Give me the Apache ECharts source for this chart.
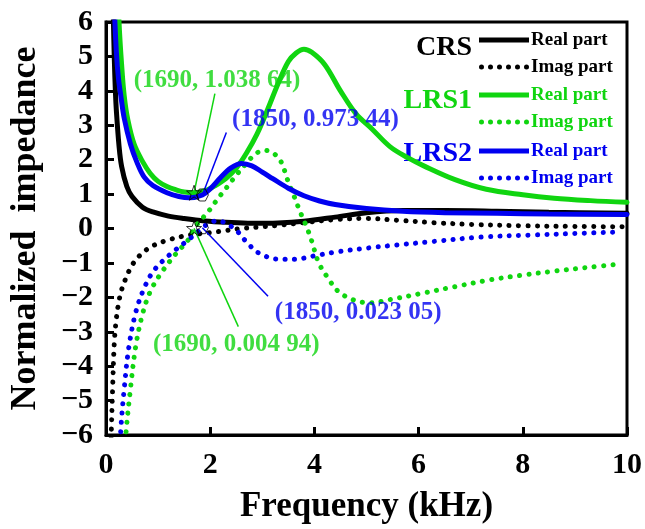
<!DOCTYPE html>
<html>
<head>
<meta charset="utf-8">
<script src="https://cdn.jsdelivr.net/npm/echarts@6/dist/echarts.min.js"></script>
<style>
html,body{margin:0;padding:0;background:#fff;}
#chart{width:645px;height:529px;}
</style>
</head>
<body>
<div id="chart"></div>
<script>
// ---- data (frequency in kHz, normalized impedance) ----
const xTicks = [0, 2, 4, 6, 8, 10];
const yTicks = [-6, -5, -4, -3, -2, -1, 0, 1, 2, 3, 4, 5, 6];

const crsRealF = [0.12,0.14,0.16,0.18,0.2,0.25,0.3,0.4,0.5,0.7,0.9,1.2,1.5,1.9,2.3,2.8,3.3,3.8,4.4,5.0,5.7,6.5,7.5,8.5,10];
const crsRealV = [8,6.2,4.9,4.0,3.4,2.4,1.8,1.22,0.93,0.62,0.48,0.36,0.29,0.22,0.18,0.15,0.16,0.21,0.33,0.46,0.52,0.52,0.5,0.47,0.44];

const crsImagF = [0.08,0.1,0.127,0.16,0.2,0.25,0.3,0.38,0.48,0.6,0.75,0.9,1.2,1.6,2.0,2.3,2.6,2.9,3.3,3.8,4.4,5.0,5.6,6.3,7.0,8.0,9.0,10];
const crsImagV = [-7.2,-6.0,-4.65,-3.3,-2.6,-2.1,-1.78,-1.45,-1.12,-0.86,-0.65,-0.5,-0.33,-0.19,-0.12,-0.06,0.0,0.04,0.09,0.17,0.26,0.29,0.24,0.17,0.12,0.08,0.06,0.05];

const lrs1RealF = [0.22,0.25,0.3,0.35,0.42,0.54,0.7,0.85,1.0,1.17,1.35,1.5,1.69,1.9,2.1,2.3,2.5,2.7,2.9,3.1,3.3,3.5,3.65,3.8,3.95,4.2,4.5,4.8,5.1,5.45,5.8,6.1,6.7,7.3,8.0,8.6,9.3,10];
const lrs1RealV = [7.5,6.0,4.75,3.85,3.15,2.45,1.95,1.6,1.37,1.22,1.12,1.06,1.04,1.1,1.25,1.45,1.75,2.2,2.75,3.45,4.2,4.85,5.1,5.21,5.12,4.76,4.0,3.33,2.9,2.38,2.05,1.82,1.42,1.14,0.98,0.88,0.81,0.76];

const lrs1ImagF = [0.34,0.38,0.47,0.57,0.7,0.85,1.07,1.36,1.58,1.69,1.87,2.0,2.1,2.2,2.32,2.5,2.7,2.88,3.05,3.2,3.35,3.5,3.62,3.73,3.85,3.95,4.08,4.27,4.46,4.74,5.06,5.44,6.07,6.7,7.34,7.97,8.6,9.24,9.9];
const lrs1ImagV = [-7.0,-6.0,-4.65,-3.43,-2.49,-1.83,-1.27,-0.7,-0.33,0.005,0.33,0.56,0.77,0.97,1.2,1.55,1.9,2.18,2.27,2.2,1.97,1.35,0.9,0.47,0.05,-0.37,-0.99,-1.46,-1.83,-2.07,-2.16,-2.07,-1.88,-1.69,-1.5,-1.36,-1.24,-1.13,-1.03];

const lrs2RealF = [0.14,0.16,0.2,0.24,0.285,0.35,0.47,0.6,0.73,0.9,1.17,1.4,1.6,1.85,2.0,2.2,2.4,2.6,2.8,3.0,3.2,3.5,3.8,4.1,4.4,5.0,5.7,6.5,7.5,8.5,10];
const lrs2RealV = [7.4,6.4,5.1,4.35,3.85,3.2,2.45,1.9,1.5,1.25,1.04,0.93,0.89,0.973,1.15,1.48,1.76,1.89,1.82,1.64,1.45,1.17,0.95,0.8,0.7,0.58,0.5,0.46,0.44,0.42,0.41];

const lrs2ImagF = [0.25,0.285,0.35,0.44,0.57,0.73,0.92,1.23,1.58,1.85,1.99,2.15,2.31,2.5,2.69,2.94,3.32,3.64,3.98,4.43,5.06,5.57,6.26,7.2,8.16,9.1,9.9];
const lrs2ImagV = [-7.0,-5.82,-4.65,-3.43,-2.44,-1.74,-1.22,-0.75,-0.33,0.023,0.16,0.23,0.14,-0.05,-0.38,-0.72,-0.89,-0.89,-0.8,-0.68,-0.56,-0.48,-0.38,-0.25,-0.19,-0.14,-0.1];

// marked points and annotations (data coordinates)
const markF = [1.69, 1.85, 1.85, 1.69];
const markV = [1.03864, 0.97344, 0.02305, 0.00494];
const markShape = ['star', 'hex', 'hex', 'star'];
const annoText = ['(1690, 1.038 64)', '(1850, 0.973 44)', '(1850, 0.023 05)', '(1690, 0.004 94)'];
const annoF = [2.13, 4.02, 4.84, 2.5];
const annoV = [4.31, 3.18, -2.45, -3.38];
const leaderF = [2.09, 2.31, 3.11, 2.54];
const leaderV = [3.92, 2.79, -1.97, -2.85];
const annoColor = ['green', 'blue', 'blue', 'green'];

const groupNames = ['CRS', 'LRS1', 'LRS2'];
const partNames = ['Real part', 'Imag part'];

// ---- styling ----
const COL = { black: '#000000', green: '#10d510', blue: '#0000f0' };
const FONT = 'Liberation Serif, Times New Roman, serif';
const STAR = 'path://M0,-10L2.35,-3.24L9.51,-3.09L3.8,1.24L5.88,8.09L0,4L-5.88,8.09L-3.8,1.24L-9.51,-3.09L-2.35,-3.24Z';
const HEX = 'path://M5,0L2.5,4.33L-2.5,4.33L-5,0L-2.5,-4.33L2.5,-4.33Z';
const ICON_SOLID = 'path://M0,0L50,0L50,5L0,5Z';
function dotsIcon() {
  let p = 'path://';
  for (let k = 0; k < 6; k++) {
    const cx = 2.5 + k * 9;
    p += 'M' + (cx - 2.5) + ',2.5A2.5,2.5,0,1,0,' + (cx + 2.5) + ',2.5A2.5,2.5,0,1,0,' + (cx - 2.5) + ',2.5Z';
  }
  return p;
}
const ICON_DOTS = dotsIcon();

const zip = (f, v) => f.map((x, i) => [x, v[i]]);

function curve(name, f, v, color, dotted) {
  return {
    name: name, type: 'line', data: zip(f, v), smooth: 0.35,
    showSymbol: false, symbol: 'none', clip: true,
    lineStyle: dotted
      ? { color: color, width: 5, type: [0.1, 9.3], cap: 'round' }
      : { color: color, width: 5, cap: 'round' },
    itemStyle: { color: color },
    z: 2
  };
}

const series = [
  curve('CRS Real part', crsRealF, crsRealV, COL.black, false),
  curve('CRS Imag part', crsImagF, crsImagV, COL.black, true),
  curve('LRS1 Real part', lrs1RealF, lrs1RealV, COL.green, false),
  curve('LRS1 Imag part', lrs1ImagF, lrs1ImagV, COL.green, true),
  curve('LRS2 Real part', lrs2RealF, lrs2RealV, COL.blue, false),
  curve('LRS2 Imag part', lrs2ImagF, lrs2ImagV, COL.blue, true)
];

// leader lines
for (let i = 0; i < markF.length; i++) {
  series.push({
    type: 'line', data: [[markF[i], markV[i]], [leaderF[i], leaderV[i]]],
    symbol: 'none', silent: true, z: 3,
    lineStyle: { color: COL[annoColor[i]], width: 1.5 }
  });
}
// markers
series.push({
  type: 'scatter', z: 4, silent: true,
  data: markF.map((f, i) => ({
    value: [f, markV[i]],
    symbol: markShape[i] === 'star' ? STAR : HEX,
    symbolSize: markShape[i] === 'star' ? 15 : 12
  })),
  itemStyle: { color: 'rgba(0,0,0,0)', borderColor: '#000', borderWidth: 1 }
});
// annotation texts
series.push({
  type: 'scatter', z: 5, silent: true, symbolSize: 1,
  data: annoF.map((f, i) => ({
    value: [f, annoV[i]],
    label: { color: COL[annoColor[i]] }
  })),
  itemStyle: { color: 'rgba(0,0,0,0)' },
  label: {
    show: true, position: 'inside',
    formatter: p => annoText[p.dataIndex],
    fontFamily: FONT, fontWeight: 'bold', fontSize: 25
  }
});

const legendTops = [25, 80, 136];
const legendColors = [COL.black, COL.green, COL.blue];
const legends = groupNames.map((g, gi) => ({
  orient: 'vertical', left: 474, top: legendTops[gi],
  itemWidth: 50, itemHeight: 20, itemGap: 7, symbolKeepAspect: true,
  data: partNames.map((p, pi) => ({ name: g + ' ' + p, icon: pi === 0 ? ICON_SOLID : ICON_DOTS })),
  formatter: n => n.replace(g + ' ', ''),
  selectedMode: false,
  textStyle: { color: legendColors[gi], fontFamily: FONT, fontWeight: 'bold', fontSize: 19, lineHeight: 20, padding: [0, 0, 0, -3] }
}));

const groupY = [50, 103, 156];
const graphic = groupNames.map((g, gi) => ({
  type: 'text', right: 645 - 472, top: groupY[gi] - 16,
  style: { text: g, fill: legendColors[gi], font: 'bold 28px ' + FONT }
}));

const axisFont = { fontFamily: FONT, fontWeight: 'bold', fontSize: 30, color: '#000' };

const option = {
  backgroundColor: '#fff',
  animation: false,
  grid: { left: 100, right: 18, top: 22, bottom: 81, show: true, borderColor: '#000', borderWidth: 3, backgroundColor: 'transparent' },
  legend: legends,
  graphic: graphic,
  xAxis: {
    type: 'value', min: xTicks[0], max: xTicks[xTicks.length - 1], interval: 2,
    name: 'Frequency (kHz)', nameLocation: 'middle', nameGap: 54,
    nameTextStyle: { fontFamily: FONT, fontWeight: 'bold', fontSize: 35, color: '#000' },
    axisLine: { show: true, onZero: false, lineStyle: { color: '#000', width: 3 } },
    axisTick: { show: true, inside: true, length: 8, lineStyle: { color: '#000', width: 3 } },
    axisLabel: Object.assign({ margin: 15 }, axisFont),
    splitLine: { show: false }
  },
  yAxis: {
    type: 'value', min: yTicks[0], max: yTicks[yTicks.length - 1], interval: 1,
    name: 'Normalized  impedance', nameLocation: 'middle', nameGap: 62,
    nameTextStyle: { fontFamily: FONT, fontWeight: 'bold', fontSize: 36, color: '#000' },
    axisLine: { show: true, onZero: false, lineStyle: { color: '#000', width: 3 } },
    axisTick: { show: true, inside: true, length: 8, lineStyle: { color: '#000', width: 3 } },
    axisLabel: Object.assign({ margin: 13, formatter: v => (v < 0 ? '\u2212' + Math.abs(v) : String(v)) }, axisFont),
    splitLine: { show: false }
  },
  series: series
};

const chart = echarts.init(document.getElementById('chart'), null, { renderer: 'canvas' });
chart.setOption(option);
</script>
</body>
</html>
